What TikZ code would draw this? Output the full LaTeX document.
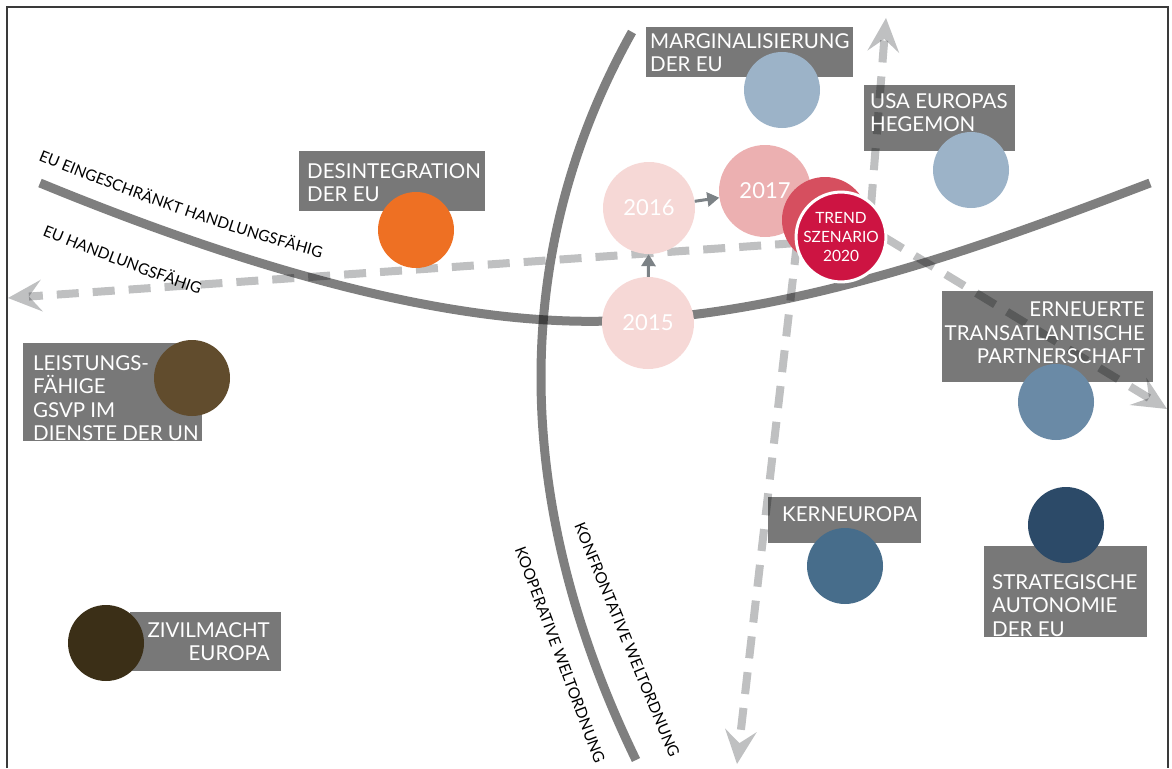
\documentclass[tikz,border=0pt]{standalone}
\usepackage{fontspec}
\setmainfont{Lato}
\usetikzlibrary{arrows.meta,decorations.text}

\definecolor{boxgray}{HTML}{787878}
\definecolor{curvegray}{HTML}{7F7F7F}
\definecolor{dashgray}{HTML}{BFC0C1}
\definecolor{arrowgray}{HTML}{7C8286}
\definecolor{framegray}{HTML}{3A3A3A}
\definecolor{paleblue}{HTML}{9CB3C8}
\definecolor{midblue}{HTML}{6A8AA6}
\definecolor{steelblue}{HTML}{476D8B}
\definecolor{navyblue}{HTML}{2C4A68}
\definecolor{orangedot}{HTML}{EE7023}
\definecolor{brownish}{HTML}{614C2D}
\definecolor{darkbrown}{HTML}{3B2F17}
\definecolor{rosepale}{HTML}{F6D8D6}
\definecolor{rosemid}{HTML}{ECB0B1}
\definecolor{redback}{HTML}{D64F5F}
\definecolor{trendred}{HTML}{CD1442}

\newcommand{\boxfont}{\fontsize{20.5}{23.5}\selectfont}
\newcommand{\curvefont}{\fontsize{15.5}{16}\selectfont}

\tikzset{
  labelbox/.style={fill=boxgray, inner sep=0pt, anchor=north west},
  labeltext/.style={text=white, inner sep=0pt, font=\boxfont},
  dot/.style={circle, inner sep=0pt, minimum size=76pt},
  yeardot/.style={circle, inner sep=0pt, minimum size=92pt, text=white, font=\fontsize{22}{22}\selectfont},
  axiscurve/.style={draw=curvegray, line width=9pt, blend mode=multiply},
  curvelabel/.style={inner sep=0pt, font=\curvefont},
  trendarrow/.style={draw=dashgray, line width=8pt, dash pattern=on 22pt off 14pt, blend mode=multiply,
    -{Stealth[length=34pt,width=32pt,inset=13pt,line width=0pt]}},
  steparrow/.style={draw=arrowgray, line width=3pt, -{Triangle[length=12pt,width=14pt]}},
}

\begin{document}
\begin{tikzpicture}[x=1pt,y=-1pt]
\useasboundingbox (0,0) rectangle (1172,768);

%Frame
\draw[line width=2pt, framegray] (7,768) -- (7,7) -- (1168,7) -- (1168,768);

%Shape: Rectangle (label boxes)
\node[labelbox, minimum width=207pt, minimum height=50pt] (margbox) at (646,27) {};
\node[labelbox, minimum width=151pt, minimum height=66pt] (usabox) at (864,85) {};
\node[labelbox, minimum width=186pt, minimum height=60pt] (desbox) at (299,151) {};
\node[labelbox, minimum width=179pt, minimum height=98pt] (leibox) at (23,343) {};
\node[labelbox, minimum width=151pt, minimum height=59pt] (zivbox) at (130,612) {};
\node[labelbox, minimum width=153pt, minimum height=46pt] (kernbox) at (768,497) {};
\node[labelbox, minimum width=163pt, minimum height=91pt] (stratbox) at (984,546) {};
\node[labelbox, minimum width=211pt, minimum height=91pt] (ernbox) at (942,291) {};

%Curves (axes)
\draw[axiscurve] (40,183) .. controls (300,290) and (480,325) .. (610,321) .. controls (800,316) and (1000,240) .. (1150,183);
\draw[axiscurve] (632,32) .. controls (510,250) and (510,500) .. (636,760);

%Dashed arrows out of the trend
\coordinate (hubW) at (797,243);
\coordinate (hubN) at (871,206);
\coordinate (hubE) at (884,237);
\coordinate (tipW) at (8,298);
\coordinate (tipN) at (886,18);
\coordinate (tipS) at (737,764);
\coordinate (tipE) at (1167,409);
\draw[trendarrow] (hubW) -- (tipW);
\draw[trendarrow] (hubN) -- (tipN);
\draw[trendarrow] (hubW) -- (tipS);
\draw[trendarrow] (hubE) -- (tipE);

%Shape: Circle (scenarios)
\node[dot, fill=paleblue] (margdot) at (782,90) {};
\node[dot, fill=paleblue] (usadot) at (971,170) {};
\node[dot, fill=orangedot] (desdot) at (416,230) {};
\node[dot, fill=brownish] (leidot) at (192,378) {};
\node[dot, fill=darkbrown] (zivdot) at (106,643) {};
\node[dot, fill=steelblue] (kerndot) at (845,566) {};
\node[dot, fill=navyblue] (stratdot) at (1066,525) {};
\node[dot, fill=midblue] (erndot) at (1056,402) {};

%Shape: Circle (years)
\node[yeardot, fill=rosepale] (y2015) at (648,323) {2015};
\node[yeardot, fill=rosepale] (y2016) at (649,208) {2016};
\node[yeardot, fill=rosemid] (y2017) at (765,191) {2017};
\node[circle, inner sep=0pt, minimum size=86pt, fill=redback] (trendback) at (825,220) {};
\node[circle, inner sep=0pt, minimum size=88pt, fill=trendred, draw=white, line width=3pt,
      text=white, align=center, font=\fontsize{15.5}{19}\selectfont] (trend) at (841,237) {TREND\\SZENARIO\\2020};

\draw[steparrow] (y2015) -- (y2016);
\draw[steparrow] (y2016) -- (y2017);

% Text Node
\node[labeltext, anchor=north west, align=left] (margtxt) at (650,33) {MARGINALISIERUNG\\DER EU};
% Text Node
\node[labeltext, anchor=north west, align=left] (usatxt) at (870,93) {USA EUROPAS\\HEGEMON};
% Text Node
\node[labeltext, anchor=north west, align=left] (destxt) at (307,163) {DESINTEGRATION\\DER EU};
% Text Node
\node[labeltext, anchor=north west, align=left] (leitxt) at (33,355) {LEISTUNGS-\\FÄHIGE\\GSVP IM\\DIENSTE DER UN};
% Text Node
\node[labeltext, anchor=north east, align=right] (zivtxt) at (270,622) {ZIVILMACHT\\EUROPA};
% Text Node
\node[labeltext, anchor=north west, align=left] (kerntxt) at (782,506) {KERNEUROPA};
% Text Node
\node[labeltext, anchor=north west, align=left] (strattxt) at (992,574) {STRATEGISCHE\\AUTONOMIE\\DER EU};
% Text Node
\node[labeltext, anchor=north east, align=right] (erntxt) at (1145,302) {ERNEUERTE\\TRANSATLANTISCHE\\PARTNERSCHAFT};

%Curve labels
\path[decorate, decoration={text along path, text={|\curvefont|EU EINGESCHRÄNKT HANDLUNGSFÄHIG}}]
  (38,160) .. controls (298,267) and (478,302) .. (608,298);
\path[decorate, decoration={text along path, text={|\curvefont|EU HANDLUNGSFÄHIG}}]
  (42,235) .. controls (302,342) and (482,377) .. (612,373);
\node[curvelabel, rotate=-69.5] (kooplbl) at (560,655) {KOOPERATIVE WELTORDNUNG};
\node[curvelabel, rotate=-67.6] (konflbl) at (627,640) {KONFRONTATIVE WELTORDNUNG};

\end{tikzpicture}
\end{document}
